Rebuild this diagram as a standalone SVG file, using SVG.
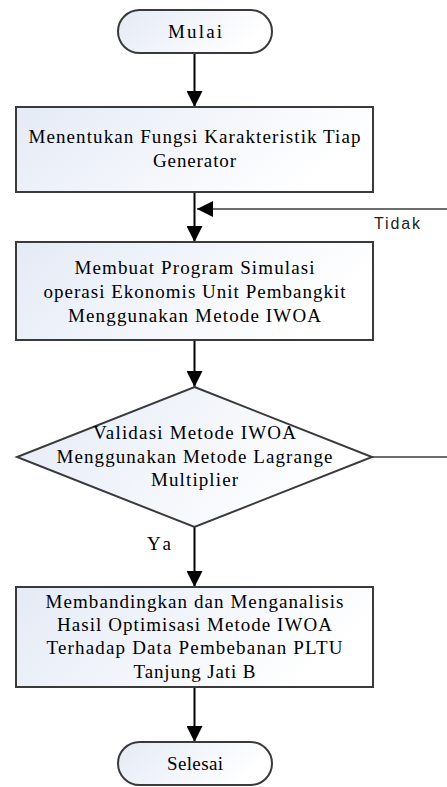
<svg xmlns="http://www.w3.org/2000/svg" width="447" height="787" viewBox="0 0 447 787">
<defs>
<linearGradient id="fill" x1="0" y1="0" x2="1" y2="0.3">
<stop offset="0" stop-color="#e4eaf6"/>
<stop offset="1" stop-color="#ffffff"/>
</linearGradient>
<marker id="arr" markerUnits="userSpaceOnUse" markerWidth="18" markerHeight="16" refX="16" refY="8" orient="auto">
<path d="M0,0 L16,8 L0,16 Z" fill="#000"/>
</marker>
</defs>
<style>
.shape{fill:url(#fill);stroke:#3a3a3a;stroke-width:2}
.t{font-family:"Liberation Serif","Times New Roman",serif;font-size:19px;fill:#000;text-anchor:middle}
.s{font-family:"Liberation Sans",Arial,sans-serif;font-size:16px;fill:#222;text-anchor:middle}
.c{fill:none;stroke:#000;stroke-width:2}
.g{fill:none;stroke:#6e6e6e;stroke-width:2}
</style>
<rect width="447" height="787" fill="#fff"/>
<g id="connectors">
<line class="c" x1="194.5" y1="53" x2="194.5" y2="107" marker-end="url(#arr)"/>
<line class="c" x1="194.5" y1="192" x2="194.5" y2="242" marker-end="url(#arr)"/>
<path class="g" d="M372,457 H470 V209 H197" marker-end="url(#arr)"/>
<line class="c" x1="194.5" y1="340" x2="194.5" y2="387" marker-end="url(#arr)"/>
<line class="c" x1="194.5" y1="527" x2="194.5" y2="587" marker-end="url(#arr)"/>
<line class="c" x1="194.5" y1="687" x2="194.5" y2="742" marker-end="url(#arr)"/>
<text class="s" x="397" y="229" textLength="46" lengthAdjust="spacing">Tidak</text>
<text class="t" x="159" y="550" textLength="24" lengthAdjust="spacing">Ya</text>
</g>
<g id="mulai">
<rect class="shape" x="118" y="10" width="154" height="43" rx="21.5"/>
<text class="t" x="195" y="38" textLength="54" lengthAdjust="spacing">Mulai</text>
</g>
<g id="step1">
<rect class="shape" x="16" y="107" width="357" height="85"/>
<text class="t" x="194.5" y="143" textLength="332" lengthAdjust="spacing">Menentukan Fungsi Karakteristik Tiap</text>
<text class="t" x="194.5" y="167" textLength="83" lengthAdjust="spacing">Generator</text>
</g>
<g id="step2">
<rect class="shape" x="16" y="242" width="357" height="98"/>
<text class="t" x="194.5" y="274" textLength="240" lengthAdjust="spacing">Membuat Program Simulasi</text>
<text class="t" x="194.5" y="298" textLength="302" lengthAdjust="spacing">operasi Ekonomis Unit Pembangkit</text>
<text class="t" x="194.5" y="322" textLength="253" lengthAdjust="spacing">Menggunakan Metode IWOA</text>
</g>
<g id="decision">
<polygon class="shape" points="194.5,387 372,457 194.5,527 17,457"/>
<text class="t" x="194.5" y="439" textLength="203" lengthAdjust="spacing">Validasi Metode IWOA</text>
<text class="t" x="194.5" y="463" textLength="276" lengthAdjust="spacing">Menggunakan Metode Lagrange</text>
<text class="t" x="194.5" y="486" textLength="87" lengthAdjust="spacing">Multiplier</text>
</g>
<g id="step3">
<rect class="shape" x="16" y="587" width="357" height="100"/>
<text class="t" x="194.5" y="608" textLength="298" lengthAdjust="spacing">Membandingkan dan Menganalisis</text>
<text class="t" x="194.5" y="631" textLength="275" lengthAdjust="spacing">Hasil Optimisasi Metode IWOA</text>
<text class="t" x="194.5" y="654" textLength="296" lengthAdjust="spacing">Terhadap Data Pembebanan PLTU</text>
<text class="t" x="194.5" y="678" textLength="122" lengthAdjust="spacing">Tanjung Jati B</text>
</g>
<g id="selesai">
<rect class="shape" x="118" y="742" width="154" height="43" rx="21.5"/>
<text class="t" x="195" y="770" textLength="56" lengthAdjust="spacing">Selesai</text>
</g>
</svg>
